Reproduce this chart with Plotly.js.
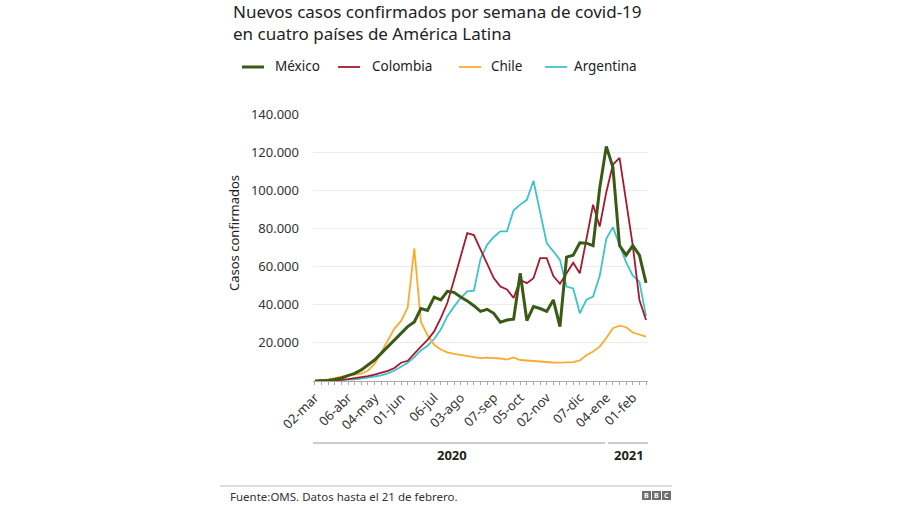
<!DOCTYPE html>
<html>
<head>
<meta charset="utf-8">
<script src="https://cdn.plot.ly/plotly-3.0.1.min.js"></script>
<style>
  html, body { margin: 0; padding: 0; background: #ffffff; }
  #chart { width: 900px; height: 510px; }
</style>
</head>
<body>
<div id="chart"></div>
<script>
// ---- Data (weekly new confirmed cases) ----
const startDate = '2020-03-02';
const nWeeks = 51;

const mexico = [0, 100, 300, 800, 1600, 2800, 4000, 5800, 8200, 11000,
  14500, 18000, 22000, 25500, 28500, 31000, 38000, 37000, 44000, 42500,
  47000, 46500, 44000, 42000, 39500, 36500, 37600, 35500, 30800, 32000,
  32400, 56500, 31700, 39000, 38000, 36500, 42500, 28500, 65000, 66000,
  72500, 72300, 71000, 101000, 123000, 112000, 71000, 66000, 71000, 66000,
  51500];

const colombia = [0, 50, 100, 300, 600, 1000, 1400, 1900, 2500, 3300,
  4200, 5300, 6800, 9600, 10600, 14500, 18000, 21500, 26000, 33000,
  41000, 53000, 66000, 77500, 76500, 69000, 61000, 54000, 49500, 48000,
  43500, 53000, 51300, 53900, 64400, 64400, 55000, 51000, 56500, 62000,
  56500, 75000, 92400, 81000, 99000, 113500, 117000, 94000, 71000, 42500,
  32000];

const chile = [100, 300, 800, 1500, 2400, 3000, 3300, 3800, 5500, 9000,
  15000, 21500, 27500, 31500, 38500, 69500, 31000, 24000, 19000, 16500,
  15000, 14200, 13600, 13000, 12300, 12000, 12300, 12200, 11800, 11200,
  12400, 11000, 10700, 10300, 10000, 9800, 9700, 9600, 9700, 9900,
  10800, 13500, 15500, 18000, 22500, 27700, 29000, 28200, 25400, 24500,
  23300];

const argentina = [0, 100, 200, 300, 500, 700, 900, 1200, 1700, 2200,
  3000, 4000, 5500, 7500, 9500, 12500, 16000, 18500, 22000, 27000,
  34000, 39000, 43500, 47000, 47400, 64000, 71400, 75500, 78500, 78500,
  89500, 92500, 95000, 105000, 88000, 72300, 68000, 63500, 49500, 48500,
  35500, 42700, 44300, 55000, 74500, 80700, 71400, 62200, 55200, 52100,
  34000];

const seriesNames = ['México', 'Colombia', 'Chile', 'Argentina'];
const seriesColors = ['#3b5a16', '#a6192e', '#fdaa2f', '#3dc3cb'];
const seriesWidths = [3, 1.8, 1.8, 1.8];

const tickDates = ['2020-03-02', '2020-04-06', '2020-05-04', '2020-06-01',
  '2020-07-06', '2020-08-03', '2020-09-07', '2020-10-05', '2020-11-02',
  '2020-12-07', '2021-01-04', '2021-02-01'];
const tickLabels = ['02-mar', '06-abr', '04-may', '01-jun', '06-jul',
  '03-ago', '07-sep', '05-oct', '02-nov', '07-dic', '04-ene', '01-feb'];

const yTicks = [20000, 40000, 60000, 80000, 100000, 120000, 140000];

const titleLines = ['Nuevos casos confirmados por semana de covid-19',
  'en cuatro países de América Latina'];

// ---- Build weekly date axis ----
function addDays(iso, d) {
  const t = new Date(iso + 'T00:00:00Z');
  t.setUTCDate(t.getUTCDate() + d);
  return t.toISOString().slice(0, 10);
}
const dates = [];
for (let i = 0; i < nWeeks; i++) dates.push(addDays(startDate, 7 * i));

const allSeries = [mexico, colombia, chile, argentina];
// draw Mexico last so it sits on top
const order = [3, 2, 1, 0];
const traces = order.map(k => ({
  type: 'scatter', mode: 'lines', x: dates, y: allSeries[k],
  name: seriesNames[k], showlegend: false,
  line: { color: seriesColors[k], width: seriesWidths[k], shape: 'linear' },
  hoverinfo: 'x+y+name'
}));

// ---- Layout geometry helpers ----
const L = 313, R = 648, T = 114, B = 381;
const W = 900, H = 510;
const px = x => (x - L) / (R - L);
const py = y => (B - y) / (B - T);

const FONT = '"Noto Sans", "Open Sans", sans-serif';
const shapes = [];
const annotations = [];

// title (two lines)
[12, 34].forEach((yy, i) => {
  annotations.push({ xref: 'paper', yref: 'paper', x: px(231), y: py(yy),
    xanchor: 'left', yanchor: 'middle', showarrow: false, text: titleLines[i],
    font: { family: FONT, size: 17, color: '#222' } });
});

// custom legend
const legLineX = [242, 338, 459, 545];
const legTextX = [273, 370, 489, 572];
const legY = 66;
for (let k = 0; k < 4; k++) {
  shapes.push({ type: 'line', xref: 'paper', yref: 'paper',
    x0: px(legLineX[k]), x1: px(legLineX[k] + 22), y0: py(legY + 1), y1: py(legY + 1),
    line: { color: seriesColors[k], width: seriesWidths[k] } });
  annotations.push({ xref: 'paper', yref: 'paper', x: px(legTextX[k]), y: py(legY),
    xanchor: 'left', yanchor: 'middle', showarrow: false, text: seriesNames[k],
    font: { family: FONT, size: 13.5, color: '#222' } });
}

// y-axis title
annotations.push({ xref: 'paper', yref: 'paper', x: px(234), y: py(233),
  xanchor: 'center', yanchor: 'middle', textangle: -90, showarrow: false,
  text: 'Casos confirmados', font: { family: FONT, size: 13, color: '#222' } });

// year brackets
shapes.push({ type: 'line', xref: 'paper', yref: 'paper', x0: 0, x1: px(605),
  y0: py(443), y1: py(443), line: { color: '#999', width: 1 } });
shapes.push({ type: 'line', xref: 'paper', yref: 'paper', x0: px(608), x1: 1,
  y0: py(443), y1: py(443), line: { color: '#999', width: 1 } });
annotations.push({ xref: 'paper', yref: 'paper', x: px(452), y: py(455),
  xanchor: 'center', yanchor: 'middle', showarrow: false, text: '<b>2020</b>',
  font: { family: FONT, size: 13, color: '#222' } });
annotations.push({ xref: 'paper', yref: 'paper', x: px(629), y: py(455),
  xanchor: 'center', yanchor: 'middle', showarrow: false, text: '<b>2021</b>',
  font: { family: FONT, size: 13, color: '#222' } });

// footer
shapes.push({ type: 'line', xref: 'paper', yref: 'paper', x0: px(220), x1: px(672),
  y0: py(486), y1: py(486), line: { color: '#bbb', width: 1 } });
annotations.push({ xref: 'paper', yref: 'paper', x: px(228), y: py(496),
  xanchor: 'left', yanchor: 'middle', showarrow: false,
  text: 'Fuente:OMS. Datos hasta el 21 de febrero.',
  font: { family: FONT, size: 11.5, color: '#333' } });
const bbcX = [642, 652, 662];
['B', 'B', 'C'].forEach((ch, i) => {
  shapes.push({ type: 'rect', xref: 'paper', yref: 'paper',
    x0: px(bbcX[i]), x1: px(bbcX[i] + 9), y0: py(500), y1: py(491),
    fillcolor: '#6f6f6f', line: { width: 0 } });
  annotations.push({ xref: 'paper', yref: 'paper', x: px(bbcX[i] + 4.5), y: py(495.5),
    xanchor: 'center', yanchor: 'middle', showarrow: false, text: '<b>' + ch + '</b>',
    font: { family: FONT, size: 7, color: '#fff' } });
});

const layout = {
  width: W, height: H,
  margin: { l: L, r: W - R, t: T, b: H - B, pad: 0 },
  paper_bgcolor: '#ffffff', plot_bgcolor: '#ffffff',
  separators: ',.',
  showlegend: false,
  font: { family: FONT, color: '#333' },
  xaxis: {
    type: 'date',
    range: ['2020-02-28T22:00', '2021-02-17T02:00'],
    tickvals: tickDates, ticktext: tickLabels, tickangle: -45,
    tickfont: { family: FONT, size: 13, color: '#333' },
    showgrid: false, zeroline: false,
    showline: true, linecolor: '#aaa', linewidth: 1,
    ticks: 'outside', ticklen: 3, tickcolor: '#aaa',
    minor: { ticks: 'outside', ticklen: 3, tickcolor: '#aaa',
      dtick: 7 * 86400000, tick0: startDate, showgrid: false },
    fixedrange: true
  },
  yaxis: {
    range: [0, 140000],
    tickvals: yTicks, tickformat: ',d',
    tickfont: { family: FONT, size: 13, color: '#333' },
    showgrid: true, gridcolor: '#ececec', gridwidth: 1,
    zeroline: false, showline: false, ticks: '',
    ticklabelstandoff: 13,
    fixedrange: true
  },
  shapes: shapes,
  annotations: annotations
};

Plotly.newPlot('chart', traces, layout, { staticPlot: true, displayModeBar: false });
</script>
</body>
</html>
